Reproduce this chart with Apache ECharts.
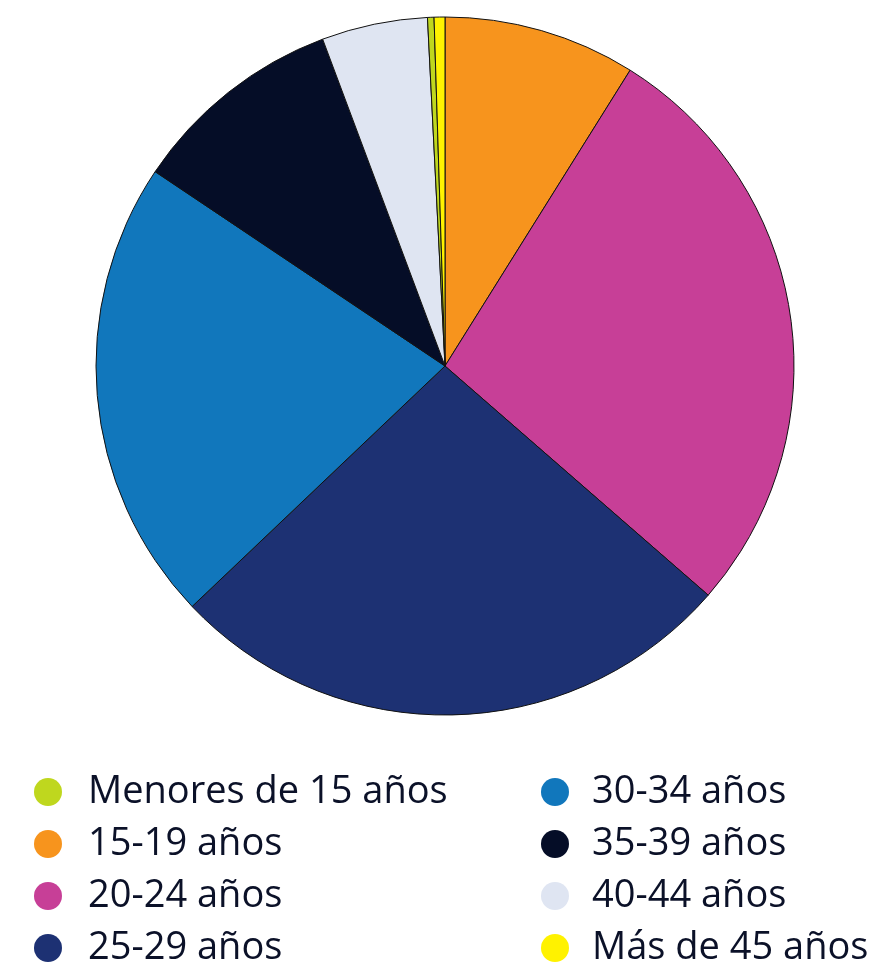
<!DOCTYPE html>
<html>
<head>
<meta charset="utf-8">
<script src="https://cdn.jsdelivr.net/npm/echarts@6/dist/echarts.min.js"></script>
<style>
  html, body { margin: 0; padding: 0; background: #fff; }
  #chart { width: 873px; height: 967px; }
</style>
</head>
<body>
<div id="chart"></div>
<script>
// grupos de edad, en el orden de la leyenda
const categories = ["Menores de 15 años", "15-19 años", "20-24 años", "25-29 años",
                    "30-34 años", "35-39 años", "40-44 años", "Más de 45 años"];
// porcentaje aproximado de cada grupo
const values = [0.3, 8.9, 27.5, 26.5, 21.5, 9.9, 4.9, 0.5];
const colors = ["#bfd71e", "#f7941d", "#c73f97", "#1d3173", "#1177bc", "#050d27", "#dfe5f2", "#fff200"];
// orden de los sectores en el gráfico (sentido horario desde arriba)
const sliceOrder = [1, 2, 3, 4, 5, 6, 0, 7];

const pieData = sliceOrder.map(function (i) {
  return { name: categories[i], value: values[i], itemStyle: { color: colors[i] } };
});

// una leyenda por elemento: 2 columnas x 4 filas
const legends = categories.map(function (name, i) {
  const col = Math.floor(i / 4);
  const row = i % 4;
  return {
    orient: "vertical",
    left: col == 0 ? 34 : 541,
    top: 773 + row * 52,
    padding: 0,
    icon: "circle",
    itemWidth: 28,
    itemHeight: 28,
    selectedMode: false,
    itemStyle: { borderWidth: 0 },
    textStyle: {
      fontFamily: "Open Sans",
      fontSize: 38,
      color: "#0b1128",
      padding: [0, 0, 0, col == 0 ? 21 : 18]
    },
    data: [name]
  };
});

const option = {
  animation: false,
  color: colors,
  legend: legends,
  series: [
    {
      type: "pie",
      center: [445, 366],
      radius: 349,
      startAngle: 90,
      clockwise: true,
      label: { show: false },
      labelLine: { show: false },
      itemStyle: { borderColor: "#111", borderWidth: 1 },
      emphasis: { disabled: true },
      data: pieData
    }
  ]
};

const chartObj = echarts.init(document.getElementById("chart"));
chartObj.setOption(option);
</script>
</body>
</html>
